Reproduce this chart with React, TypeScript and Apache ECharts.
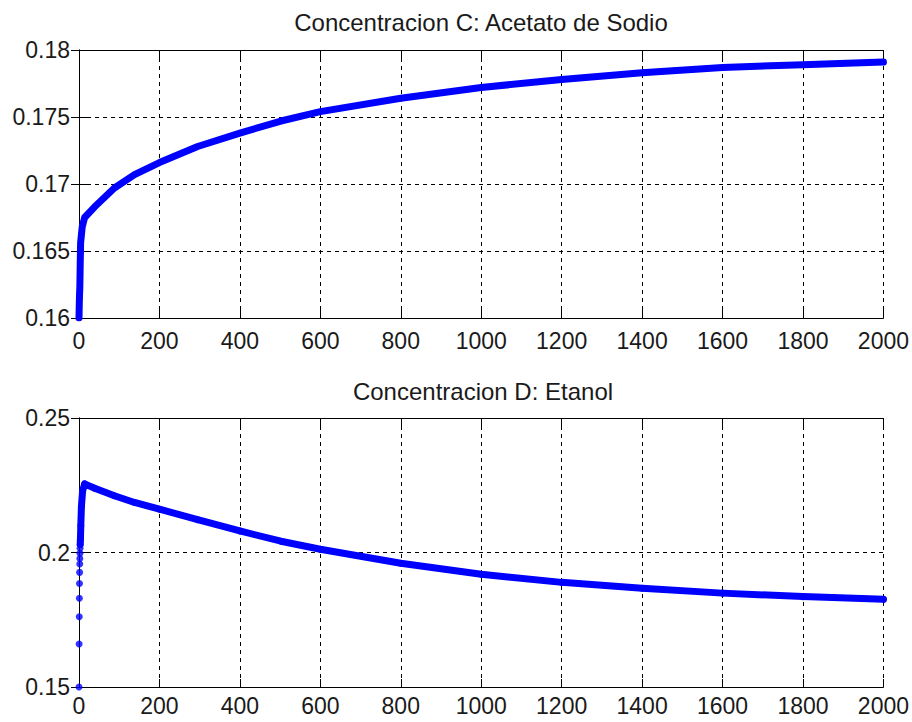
import React, { useEffect, useRef } from "react";
import * as echarts from "echarts";

// Concentracion C (Acetato de Sodio) vs tiempo
const timeC = [0, 0.5, 1, 1.5, 2, 3, 4, 6, 8, 14, 39, 88, 138, 200, 295, 400, 502, 600, 800, 1000, 1200, 1400, 1600, 1800, 2000];
const concC = [0.16, 0.1608, 0.1614, 0.1619, 0.1622, 0.164, 0.1656, 0.1662, 0.1668, 0.1675, 0.1683, 0.1697, 0.1707, 0.1716, 0.1728, 0.1738, 0.1747, 0.1754, 0.1764, 0.1772, 0.1778, 0.1783, 0.1787, 0.1789, 0.1791];

// Concentracion D (Etanol) vs tiempo
const timeD = [0, 0.3, 0.6, 0.9, 1.2, 1.5, 1.8, 2.1, 2.4, 2.7, 3.0, 3.5, 4.5, 6, 9, 14, 39, 88, 138, 200, 295, 400, 502, 600, 800, 1000, 1200, 1400, 1600, 1800, 2000];
const concD = [0.15, 0.166, 0.1761, 0.183, 0.1885, 0.1926, 0.1957, 0.1978, 0.1997, 0.2016, 0.203, 0.2046, 0.21, 0.217, 0.223, 0.2255, 0.2239, 0.2211, 0.2186, 0.2161, 0.2122, 0.2080, 0.2042, 0.2012, 0.1960, 0.1919, 0.1889, 0.1867, 0.1849, 0.1836, 0.1826];
// index where the solver steps become dense enough to read as a solid trace
const denseStartD = 10;

const titles = ["Concentracion C: Acetato de Sodio", "Concentracion D: Etanol"];

const FONT = "Arial, 'Liberation Sans', sans-serif";
const TEXT = "#1a1a1a";
const BLUE = "#0000ff";

const pairs = (xs: number[], ys: number[]) => xs.map((x, i) => [x, ys[i]]);

export default function App() {
  const ref = useRef<HTMLDivElement>(null);

  useEffect(() => {
    if (!ref.current) return;
    const chart = echarts.init(ref.current, undefined, { renderer: "svg" });

    const gridLine = { show: true, lineStyle: { color: "#000", width: 1, type: [4, 4] as any } };
    const axisLine = { show: true, lineStyle: { color: "#000", width: 1 } };
    const tick = { show: true, inside: true, length: 8, lineStyle: { color: "#000", width: 1 } };
    const label = (margin: number) => ({
      show: true, color: TEXT, fontFamily: FONT, fontSize: 23, margin,
      formatter: (v: number) => String(+(+v).toFixed(4)),
    });

    const xMain = (grid: number, margin: number) => ({
      type: "value", gridIndex: grid, position: "bottom", min: 0, max: 2000, interval: 200,
      axisLine, axisTick: tick, axisLabel: label(margin), splitLine: gridLine,
    });
    const xTop = (grid: number) => ({
      type: "value", gridIndex: grid, position: "top", min: 0, max: 2000, interval: 200,
      axisLine, axisTick: tick, axisLabel: { show: false }, splitLine: { show: false },
    });
    const yMain = (grid: number, min: number, max: number, interval: number) => ({
      type: "value", gridIndex: grid, position: "left", min, max, interval,
      axisLine, axisTick: tick, axisLabel: label(9), splitLine: gridLine,
    });
    const yRight = (grid: number, min: number, max: number, interval: number) => ({
      type: "value", gridIndex: grid, position: "right", min, max, interval,
      axisLine, axisTick: tick, axisLabel: { show: false }, splitLine: { show: false },
    });

    const trace = { color: BLUE, width: 7, cap: "round", join: "round" };

    chart.setOption({
      animation: false,
      backgroundColor: "#fff",
      grid: [
        { left: 79, right: 25, top: 50, height: 268 },
        { left: 79, right: 25, top: 418, height: 269 },
      ],
      xAxis: [xMain(0, 11), xTop(0), xMain(1, 7), xTop(1)],
      yAxis: [
        yMain(0, 0.16, 0.18, 0.005),
        yRight(0, 0.16, 0.18, 0.005),
        yMain(1, 0.15, 0.25, 0.05),
        yRight(1, 0.15, 0.25, 0.05),
      ],
      graphic: [
        { type: "text", x: 481, y: 22, style: { text: titles[0], fill: TEXT, font: `24px ${FONT}`, textAlign: "center", textVerticalAlign: "middle" } },
        { type: "text", x: 483, y: 391, style: { text: titles[1], fill: TEXT, font: `24px ${FONT}`, textAlign: "center", textVerticalAlign: "middle" } },
      ],
      series: [
        {
          type: "line", xAxisIndex: 0, yAxisIndex: 0, data: pairs(timeC, concC),
          showSymbol: false, lineStyle: trace,
        },
        {
          type: "scatter", xAxisIndex: 2, yAxisIndex: 2, data: pairs(timeD, concD),
          symbol: "circle", symbolSize: 7, itemStyle: { color: BLUE },
        },
        {
          type: "line", xAxisIndex: 2, yAxisIndex: 2, data: pairs(timeD.slice(denseStartD), concD.slice(denseStartD)),
          showSymbol: false, lineStyle: trace,
        },
      ],
    });

    return () => chart.dispose();
  }, []);

  return (
    <div
      ref={ref}
      style={{ position: "fixed", left: 0, top: 0, width: 912, height: 722, background: "#fff" }}
    />
  );
}
